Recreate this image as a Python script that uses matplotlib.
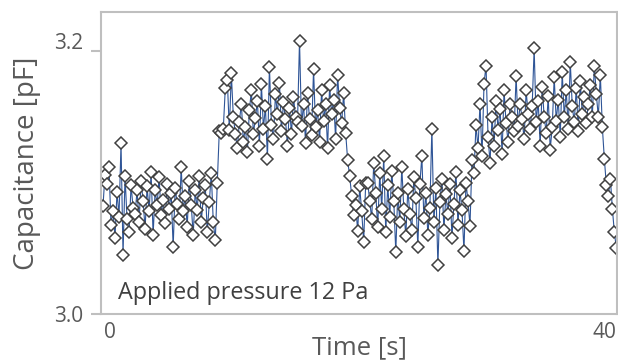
import numpy as np
import matplotlib
matplotlib.use("Agg")
import matplotlib.pyplot as plt
from matplotlib.transforms import ScaledTranslation

plt.rcParams['font.family'] = ['Open Sans', 'DejaVu Sans']

# Capacitance readings [pF], in time order
seg_low1 = [3.082, 3.106, 3.099, 3.112, 3.068, 3.078, 3.058, 3.093, 3.074, 3.130,
            3.045, 3.105, 3.072, 3.062, 3.098, 3.081, 3.076, 3.094, 3.070, 3.101,
            3.086, 3.065, 3.097, 3.078, 3.108, 3.060, 3.094, 3.083, 3.104, 3.075,
            3.087, 3.069, 3.099, 3.080, 3.092, 3.051, 3.096, 3.084, 3.072, 3.112,
            3.078, 3.090, 3.066, 3.101, 3.083, 3.060, 3.094, 3.079, 3.105, 3.070,
            3.088, 3.098, 3.062, 3.085, 3.107, 3.070, 3.056, 3.100]
seg_high1 = [3.139, 3.138, 3.141, 3.172, 3.178, 3.140, 3.183, 3.150, 3.137, 3.126,
             3.146, 3.160, 3.131, 3.142, 3.123, 3.155, 3.170, 3.137, 3.149, 3.162,
             3.128, 3.175, 3.141, 3.158, 3.118, 3.188, 3.144, 3.133, 3.167, 3.152,
             3.176, 3.139, 3.161, 3.148, 3.128, 3.157, 3.137, 3.165, 3.150, 3.146,
             3.208, 3.143, 3.160, 3.130, 3.168, 3.148, 3.136, 3.186, 3.142, 3.155,
             3.131, 3.170, 3.147, 3.160, 3.126, 3.174, 3.152, 3.163, 3.133, 3.182,
             3.157, 3.145, 3.168]
seg_low2 = [3.138, 3.117, 3.105, 3.090, 3.075, 3.083, 3.063, 3.097, 3.078, 3.055,
            3.100, 3.100, 3.086, 3.072, 3.115, 3.092, 3.066, 3.107, 3.080, 3.120,
            3.062, 3.098, 3.074, 3.109, 3.086, 3.047, 3.092, 3.070, 3.112, 3.080,
            3.059, 3.095, 3.076, 3.064, 3.104, 3.088, 3.051, 3.099, 3.120, 3.073,
            3.092, 3.060, 3.081, 3.141, 3.070, 3.096, 3.037, 3.085, 3.103, 3.064,
            3.091, 3.076, 3.099, 3.058, 3.084, 3.108, 3.068, 3.094, 3.079, 3.048,
            3.100, 3.086, 3.067]
seg_high2 = [3.117, 3.107, 3.144, 3.126, 3.160, 3.120, 3.175, 3.189, 3.135, 3.115,
             3.150, 3.128, 3.162, 3.140, 3.156, 3.122, 3.170, 3.145, 3.131, 3.160,
             3.150, 3.139, 3.181, 3.143, 3.160, 3.148, 3.133, 3.170, 3.152, 3.141,
             3.158, 3.202, 3.146, 3.162, 3.128, 3.173, 3.150, 3.138, 3.166, 3.125,
             3.142, 3.180, 3.147, 3.163, 3.135, 3.184, 3.150, 3.170, 3.141, 3.192,
             3.158, 3.146, 3.172, 3.139, 3.177, 3.152, 3.165, 3.145, 3.160, 3.174,
             3.150, 3.189, 3.167, 3.150, 3.182]
seg_end = [3.142, 3.118, 3.098, 3.090, 3.103, 3.080, 3.062, 3.050]

capacitance = np.array(seg_low1 + seg_high1 + seg_low2 + seg_high2 + seg_end)
t_first, t_last = -0.57, 41.0
time = np.linspace(t_first, t_last, len(capacitance))

x_ticks = [0, 40]
y_ticks = [3.0, 3.2]
y_ticklabels = ['3.0', '3.2']

fig = plt.figure(figsize=(6.18, 3.62), dpi=100)
ax = fig.add_axes([101/618, 48/362, 516/618, 302/362])

ax.plot(time, capacitance, color='#2F5597', lw=0.8, marker='D', markersize=5.8,
        markerfacecolor='white', markeredgecolor='#404040', markeredgewidth=1.1)

ax.set_xlim(-0.73, 41.05)
ax.set_ylim(3.0, 3.2297)
ax.set_xticks(x_ticks)
ax.set_yticks(y_ticks)
ax.set_yticklabels(y_ticklabels)
for s in ax.spines.values():
    s.set_color('#BFBFBF')
    s.set_linewidth(1.5)
ax.tick_params(axis='y', length=7, width=1.5, color='#BFBFBF', labelsize=15,
               labelcolor='#595959', pad=6)
ax.tick_params(axis='x', length=0, labelsize=15, labelcolor='#595959', pad=6)

# top tick label sits slightly above its tick in the reference
lbl = ax.get_yticklabels()[1]
lbl.set_transform(lbl.get_transform() + ScaledTranslation(0, 10/100, fig.dpi_scale_trans))

ax.set_ylabel('Capacitance [pF]', fontsize=20, color='#595959', labelpad=9)
ax.set_xlabel('Time [s]', fontsize=18.5, color='#595959', labelpad=-6)
ax.text(0.033, 0.03, 'Applied pressure 12 Pa', transform=ax.transAxes,
        fontsize=16.8, color='#404040', ha='left', va='bottom')

fig.savefig('out.png', dpi=100)
